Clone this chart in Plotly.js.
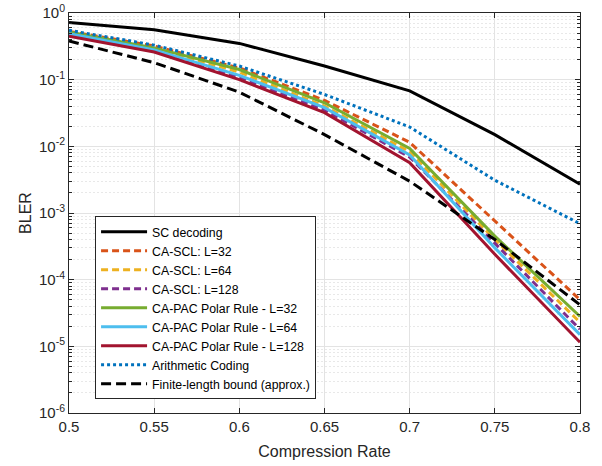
<!DOCTYPE html>
<html>
<head>
<meta charset="utf-8">
<script src="https://cdn.plot.ly/plotly-3.0.1.min.js"></script>
<style>html,body{margin:0;padding:0;background:#fff;}#chart{width:602px;height:466px;}</style>
</head>
<body>
<div id="chart"></div>
<script>
// Compression rates
const rates = [0.5, 0.55, 0.6, 0.65, 0.7, 0.75, 0.8];

// BLER series
const scDecoding   = [0.72, 0.56, 0.35, 0.16, 0.068, 0.015, 0.0027];
const caScl32      = [0.53, 0.32, 0.15, 0.049, 0.0115, 7.5e-4, 5.0e-5];
const caScl64      = [0.50, 0.29, 0.13, 0.040, 0.0083, 4.0e-4, 2.3e-5];
const caScl128     = [0.47, 0.27, 0.11, 0.035, 0.0069, 3.5e-4, 1.8e-5];
const caPac32      = [0.52, 0.30, 0.142, 0.045, 0.0093, 4.5e-4, 2.8e-5];
const caPac64      = [0.49, 0.28, 0.116, 0.038, 0.0074, 3.0e-4, 1.5e-5];
const caPac128     = [0.45, 0.26, 0.10, 0.032, 0.0057, 2.4e-4, 1.15e-5];
const arithmetic   = [0.55, 0.33, 0.16, 0.060, 0.0195, 0.0031, 6.9e-4];
const finiteBound  = [0.38, 0.18, 0.065, 0.015, 0.0030, 4.0e-4, 4.2e-5];

// Names
const seriesNames = [
  'SC decoding',
  'CA-SCL: L=32',
  'CA-SCL: L=64',
  'CA-SCL: L=128',
  'CA-PAC Polar Rule - L=32',
  'CA-PAC Polar Rule - L=64',
  'CA-PAC Polar Rule - L=128',
  'Arithmetic Coding',
  'Finite-length bound (approx.)'
];

// Axis tick labels
const xTicks = [0.5, 0.55, 0.6, 0.65, 0.7, 0.75, 0.8];
const yDecades = [-6, -5, -4, -3, -2, -1, 0];

const seriesData = [scDecoding, caScl32, caScl64, caScl128, caPac32, caPac64, caPac128, arithmetic, finiteBound];
const styles = [
  {color: '#000000', dash: 'solid'},
  {color: '#D95319', dash: '7px,4px'},
  {color: '#EDB120', dash: '7px,4px'},
  {color: '#7E2F8E', dash: '7px,4px'},
  {color: '#77AC30', dash: 'solid'},
  {color: '#4DBEEE', dash: 'solid'},
  {color: '#A2142F', dash: 'solid'},
  {color: '#0072BD', dash: '3px,3px'},
  {color: '#000000', dash: '10px,5px'}
];

const traces = seriesData.map((ys, i) => ({
  x: rates,
  y: ys,
  type: 'scatter',
  mode: 'lines',
  name: seriesNames[i],
  line: {color: styles[i].color, width: 3, dash: styles[i].dash}
}));

const yTickVals = yDecades.map(d => Math.pow(10, d));
const yTickText = yDecades.map(d => '10<sup>' + d + '</sup>');
const yMinorVals = [];
yDecades.slice(0, -1).forEach(d => { for (let m = 2; m <= 9; m++) yMinorVals.push(m * Math.pow(10, d)); });

const font = {family: 'Liberation Sans, Arial, Helvetica, sans-serif', color: '#262626'};

const layout = {
  width: 602,
  height: 466,
  margin: {l: 69, r: 22, t: 13, b: 53, pad: 0},
  paper_bgcolor: '#ffffff',
  plot_bgcolor: '#ffffff',
  font: Object.assign({size: 15}, font),
  showlegend: true,
  xaxis: {
    range: [0.5, 0.8],
    tickmode: 'array',
    tickvals: xTicks,
    ticktext: xTicks.map(v => String(v)),
    ticks: 'inside',
    ticklen: 5,
    tickcolor: '#262626',
    showline: true,
    linecolor: '#262626',
    linewidth: 1,
    mirror: 'ticks',
    showgrid: true,
    gridcolor: '#e3e3e3',
    gridwidth: 1,
    zeroline: false,
    tickfont: Object.assign({size: 15}, font),
    title: {text: 'Compression Rate', font: Object.assign({size: 16}, font), standoff: 11}
  },
  yaxis: {
    type: 'log',
    range: [-6, 0],
    tickmode: 'array',
    tickvals: yTickVals,
    ticktext: yTickText,
    ticks: 'inside',
    ticklen: 5,
    tickcolor: '#262626',
    showline: true,
    linecolor: '#262626',
    linewidth: 1,
    mirror: 'ticks',
    showgrid: true,
    gridcolor: '#e3e3e3',
    gridwidth: 1,
    zeroline: false,
    tickfont: Object.assign({size: 15}, font),
    minor: {
      tickmode: 'array',
      tickvals: yMinorVals,
      ticks: 'inside',
      ticklen: 3,
      tickcolor: '#262626',
      showgrid: true,
      gridcolor: '#e8e8e8',
      griddash: '2px,2px',
      gridwidth: 1
    },
    title: {text: 'BLER', font: Object.assign({size: 16}, font), standoff: 3}
  },
  legend: {
    x: 0.051,
    y: 0.492,
    xanchor: 'left',
    yanchor: 'top',
    bgcolor: '#ffffff',
    bordercolor: '#262626',
    borderwidth: 1,
    font: Object.assign({size: 12.3}, font, {color: '#000000'}),
    tracegroupgap: 0,
    itemwidth: 46
  }
};

Plotly.newPlot('chart', traces, layout, {displayModeBar: false, staticPlot: true});
</script>
</body>
</html>
